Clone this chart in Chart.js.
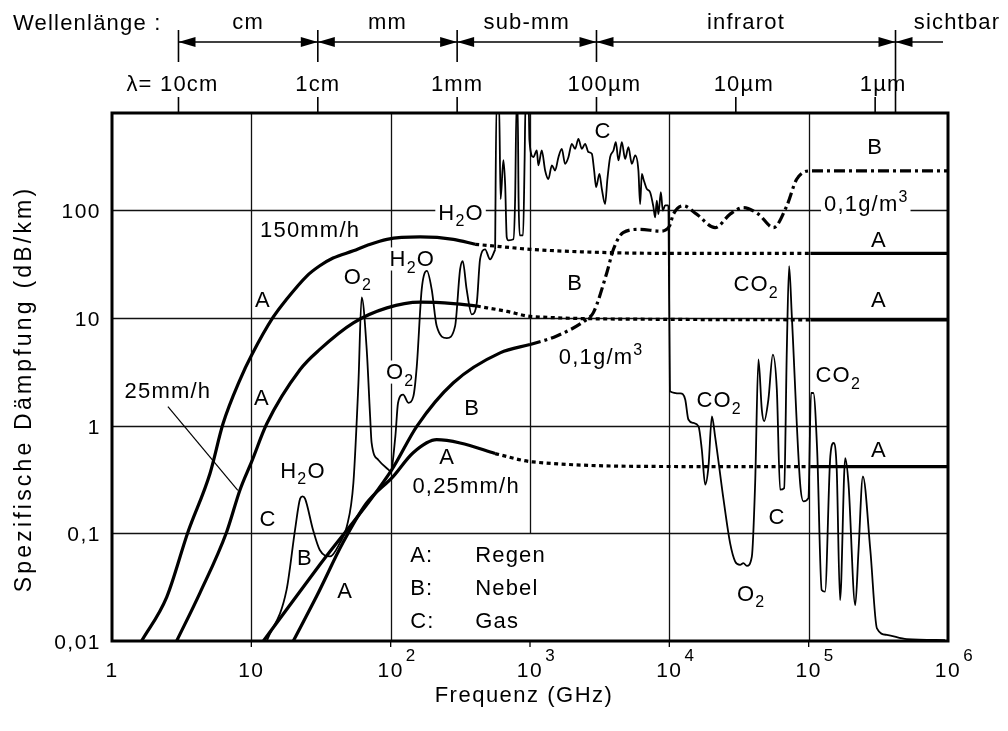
<!DOCTYPE html>
<html>
<head>
<meta charset="utf-8">
<script src="https://cdn.jsdelivr.net/npm/chart.js@4.4.0/dist/chart.umd.min.js"></script>
<style>
  html, body { margin: 0; padding: 0; background: #fff; }
  canvas { display: block; }
</style>
</head>
<body>
<canvas id="chart" width="1008" height="731"></canvas>
<script>
// Spezifische Dämpfung von Regen (A), Nebel (B) und Gas (C) über der Frequenz

// Regen 150 mm/h
const rain150Freq = [1.63, 2.47, 3.51, 5.05, 6.26, 8.3, 10.1, 14.3, 17.9, 25, 31, 38.6, 54, 67.3, 94, 163, 282, 404];
const rain150Val  = [0.01, 0.0256, 0.103, 0.36, 1.04, 2.68, 4.57, 10.1, 14.9, 24.5, 30.5, 36, 42, 47, 53.7, 56.5, 53.7, 48.3];
const rain150TailFreq = [404, 610, 1000, 3185, 10000, 103000];
const rain150TailVal  = [48.3, 46, 43.4, 40.6, 39.8, 39.8];
const rain150EndFreq = [103000, 1000000];
const rain150EndVal  = [39.8, 39.8];

// Regen 25 mm/h
const rain25Freq = [2.91, 4.28, 6.65, 8.3, 10.07, 12.9, 22.4, 31, 54, 94, 163, 282, 415];
const rain25Val  = [0.01, 0.028, 0.103, 0.254, 0.465, 1.04, 3.32, 5.1, 9.0, 12.4, 14.0, 13.6, 12.9];
const rain25TailFreq = [415, 684, 1035, 10000, 103000];
const rain25TailVal  = [12.9, 11.5, 10.3, 9.7, 9.6];
const rain25EndFreq = [103000, 1000000];
const rain25EndVal  = [9.6, 9.6];

// Regen 0,25 mm/h
const rain025Freq = [20, 29.4, 45.5, 67, 104, 145, 214, 315, 562];
const rain025Val  = [0.01, 0.026, 0.082, 0.19, 0.336, 0.56, 0.74, 0.69, 0.55];
const rain025TailFreq = [562, 1050, 12000, 103000];
const rain025TailVal  = [0.55, 0.46, 0.417, 0.416];
const rain025EndFreq = [103000, 1000000];
const rain025EndVal  = [0.416, 0.416];

// Nebel 0,1 g/m3
const fogFreq = [12.2, 31, 102, 154, 282, 610, 1000];
const fogVal  = [0.01, 0.051, 0.39, 0.985, 2.5, 4.74, 5.66];
const fogTailFreq = [1000, 1556, 2550, 2850, 3560, 3970, 4660, 6170, 8590, 10000, 10700, 12600, 15700,
  21300, 27300, 34000, 43600, 55900, 69700, 82000, 103000, 1000000];
const fogTailVal  = [5.66, 6.8, 9.7, 11.2, 26.3, 43.4, 62, 66.5, 64, 71, 92, 110, 92,
  69, 92, 106, 92, 69, 110, 194, 232, 232];

// Gas: Mikrowellen / Millimeter
const gasMwFreq = [12.9, 17.9, 20.6, 22.4, 23.3, 24.3, 27.7, 31, 36.7, 43.3, 48.4, 54, 58.7, 61.9, 67.3,
  71.2, 73, 81.6, 96.4, 100, 108, 113, 123, 134, 145.5, 154, 167, 182, 197, 214, 253, 290, 315, 329,
  351, 382, 415, 438, 476, 517, 562];
const gasMwVal  = [0.01, 0.0298, 0.108, 0.21, 0.22, 0.21, 0.108, 0.07, 0.061, 0.082, 0.115, 0.293, 2.5, 15.5, 5.1,
  1.22, 0.69, 0.48, 0.39, 0.376, 0.79, 1.63, 1.94, 1.63, 1.87, 3.57, 18.4, 27.3, 18.4, 8.4, 6.5, 8.4, 28.2, 33.7,
  18.4, 10.8, 13.8, 35, 43.3, 35, 43];
// Gas: Submillimeter
const gasSubFreq = [562, 575, 600, 615, 644, 663, 681, 700, 760, 782, 801, 815, 828, 843, 892, 915, 929, 977,
  991, 1057, 1119, 1148, 1215, 1284, 1355, 1435, 1514, 1600, 1691, 1786, 1887, 1995, 2108, 2225, 2354,
  2487, 2625, 2778, 2886, 2983, 3150, 3276, 3459, 3594, 3758, 3971, 4130, 4315, 4560, 4819, 5084, 5383,
  5689, 5998, 6170, 6350, 6516, 6890, 7280, 7690, 7910, 8130, 8350, 8690, 8980, 9330, 9860];
const gasSubVal  = [43, 1000, 1000, 127, 292, 175, 56, 52.6, 53.7, 127, 1000, 1000, 127, 58.5, 58.5, 298, 1000, 1000,
  445, 311, 359, 261, 359, 234, 195, 261, 234, 311, 372, 270, 311, 414, 372, 460, 372,
  414, 347, 334, 234, 164, 218, 158, 114, 195, 311, 359, 429, 290, 429, 300, 385, 270,
  323, 234, 114, 218, 195, 158, 147, 107, 86, 123, 92, 147, 99, 111, 111];
// Gas: Infrarot
const gasIrFreq = [9860, 10100, 12000, 13000, 13700, 14900, 16200, 17100, 18100, 19100, 20200, 21300, 24500, 27300,
  29700, 32200, 34000, 36000, 39100, 41300, 43600, 46100, 47900, 51400, 55300, 59100, 62400, 66700, 69700,
  72400, 75700, 86800, 91800, 99600, 104000, 108000, 115000, 124000, 131000, 143000, 151000, 159000,
  168000, 183000, 193000, 216000, 228000, 245000, 277000, 309000, 364000, 507000, 955000];
const gasIrVal  = [111, 2.09, 1.99, 1.75, 1.14, 1.06, 0.985, 0.6, 0.283, 0.418, 1.22, 0.795, 0.205, 0.081,
  0.0547, 0.051, 0.0528, 0.0499, 0.0608, 0.293, 4.11, 1.41, 1.1, 1.75, 4.57, 2.16, 0.254, 0.263, 5.09,
  30.3, 10.4, 0.293, 0.198, 0.212, 2.01, 2.01, 0.6, 0.0298, 0.0288, 0.518, 0.69, 0.39,
  0.024, 0.5, 0.293, 0.0216, 0.07, 0.337, 0.07, 0.0131, 0.0114, 0.0104, 0.0102];

// Achsen
const xTickVals = [1, 10, 100, 1000, 10000, 100000, 1000000];
const xTickBase = ['1', '10', '10', '10', '10', '10', '10'];
const xTickExp  = ['', '', '2', '3', '4', '5', '6'];
const yTickVals = [0.01, 0.1, 1, 10, 100];
const yTickLabels = ['0,01', '0,1', '1', '10', '100'];
const gridX = [10, 100, 1000, 10000, 100000];
const gridY = [0.1, 1, 10, 100];

// Wellenlängen-Skala oben
const waveFreq = [3, 30, 300, 3000, 30000, 300000];
const waveLabels = ['λ= 10cm', '1cm', '1mm', '100µm', '10µm', '1µm'];
const bandEdges = [3, 30, 300, 3000, 420000];
const bandNames = ['cm', 'mm', 'sub-mm', 'infrarot'];

// Beschriftungen im Diagramm [Text, Frequenz, Dämpfung, weißer Hintergrund]
const notes = [
  ['150mm/h', 26.4, 66.5], ['A', 12.1, 14.9], ['O_2', 58.3, 24.3], ['H_2O', 143, 35.7, true],
  ['H_2O', 320, 95.8, true], ['C', 3350, 555], ['B', 300000, 394], ['0,1g/m^3', 259000, 116, true],
  ['A', 320000, 53.7], ['A', 320000, 14.9], ['B', 2110, 21.4], ['0,1g/m^3', 3240, 4.38],
  ['CO_2', 42000, 20.9], ['CO_2', 22800, 1.75], ['CO_2', 163000, 2.98], ['A', 320000, 0.6],
  ['C', 59400, 0.146], ['O_2', 38700, 0.028], ['A', 11.9, 1.86], ['25mm/h', 2.52, 2.16],
  ['C', 13.2, 0.139], ['H_2O', 23.5, 0.39], ['B', 24.3, 0.06], ['A', 47.1, 0.0298],
  ['O_2', 117, 3.18, true], ['B', 384, 1.5], ['A', 254, 0.526], ['0,25mm/h', 348, 0.283]
];
const legendKeys = ['A:', 'B:', 'C:'];
const legendNames = ['Regen', 'Nebel', 'Gas'];
const legendVals = [0.0644, 0.0318, 0.0157];

const FONT = '"Liberation Sans", Arial, Helvetica, sans-serif';
const TXT = 22;

function setFont(ctx, size, spacing) {
  ctx.font = size + 'px ' + FONT;
  if ('letterSpacing' in ctx) ctx.letterSpacing = (spacing === undefined ? 1.2 : spacing) + 'px';
}

// einfacher Text mit _x (tief) und ^x (hoch)
function richText(ctx, str, x, y, size, align, bg) {
  const parts = [];
  for (let i = 0; i < str.length; i++) {
    const c = str[i];
    if ((c === '_' || c === '^') && i + 1 < str.length) { parts.push({ t: str[i + 1], k: c }); i++; continue; }
    const last = parts[parts.length - 1];
    if (last && last.k === '') last.t += c; else parts.push({ t: c, k: '' });
  }
  const small = Math.round(size * 0.72);
  let w = 0;
  for (const p of parts) { setFont(ctx, p.k ? small : size); p.w = ctx.measureText(p.t).width; w += p.w; }
  let x0 = align === 'left' ? x : align === 'right' ? x - w : x - w / 2;
  const base = y + size * 0.36;
  if (bg) { ctx.fillStyle = '#fff'; ctx.fillRect(x0 - 3, y - size * 0.5, w + 5, size * 1.05); }
  ctx.fillStyle = '#000';
  ctx.textAlign = 'left';
  ctx.textBaseline = 'alphabetic';
  for (const p of parts) {
    setFont(ctx, p.k ? small : size);
    const dy = p.k === '_' ? size * 0.28 : p.k === '^' ? -size * 0.42 : 0;
    ctx.fillText(p.t, x0, base + dy);
    x0 += p.w;
  }
}

function seg(ctx, x1, y1, x2, y2) {
  ctx.beginPath(); ctx.moveTo(x1, y1); ctx.lineTo(x2, y2); ctx.stroke();
}

function arrowHead(ctx, tipX, y, dir) {
  // dir -1: zeigt nach links, +1: nach rechts
  ctx.beginPath();
  ctx.moveTo(tipX, y);
  ctx.lineTo(tipX - dir * 17, y - 5);
  ctx.lineTo(tipX - dir * 17, y + 5);
  ctx.closePath();
  ctx.fill();
}

const paperPlugin = {
  id: 'paper',
  beforeDatasetsDraw(chart) {
    const { ctx, chartArea: a } = chart;
    const xs = chart.scales.x, ys = chart.scales.y;
    ctx.save();
    ctx.strokeStyle = '#111';
    ctx.lineWidth = 1.3;
    gridX.forEach(f => {
      const px = Math.round(xs.getPixelForValue(f)) + 0.5;
      const yEnd = f === 1000 ? ys.getPixelForValue(0.1) : a.bottom;
      seg(ctx, px, a.top, px, yEnd);
    });
    gridY.forEach(v => {
      const py = Math.round(ys.getPixelForValue(v)) + 0.5;
      seg(ctx, a.left, py, a.right, py);
    });

    // Beschriftungen
    notes.forEach(n => {
      richText(ctx, n[0], xs.getPixelForValue(n[1]), ys.getPixelForValue(n[2]), TXT, 'center', n[3]);
    });
    legendKeys.forEach((k, i) => {
      const py = ys.getPixelForValue(legendVals[i]);
      richText(ctx, k, xs.getPixelForValue(138), py, TXT, 'left');
      richText(ctx, legendNames[i], xs.getPixelForValue(404), py, TXT, 'left');
    });
    // Zeiger 25mm/h
    ctx.lineWidth = 1.2;
    ctx.strokeStyle = '#000';
    seg(ctx, xs.getPixelForValue(2.52), ys.getPixelForValue(1.5), xs.getPixelForValue(8.0), ys.getPixelForValue(0.25));
    ctx.restore();
  },
  afterDraw(chart) {
    const { ctx, chartArea: a } = chart;
    const xs = chart.scales.x, ys = chart.scales.y;
    ctx.save();
    ctx.strokeStyle = '#000';
    ctx.fillStyle = '#000';

    // Rahmen
    ctx.lineWidth = 3;
    ctx.strokeRect(a.left, a.top, a.right - a.left, a.bottom - a.top);

    // kleine Striche unten
    ctx.lineWidth = 1.3;
    gridX.forEach(f => {
      const px = xs.getPixelForValue(f);
      seg(ctx, px, a.bottom, px, a.bottom + 6);
    });

    // x-Beschriftung
    xTickVals.forEach((v, i) => {
      const px = xs.getPixelForValue(v);
      setFont(ctx, 21, 1.5);
      ctx.textAlign = 'center';
      ctx.textBaseline = 'alphabetic';
      ctx.fillText(xTickBase[i], px, 677);
      if (xTickExp[i]) {
        const w = ctx.measureText(xTickBase[i]).width;
        setFont(ctx, 17, 1);
        ctx.textAlign = 'left';
        ctx.fillText(xTickExp[i], px + w / 2 + 2, 661);
      }
    });
    // y-Beschriftung
    yTickVals.forEach((v, i) => {
      setFont(ctx, 21, 1.5);
      ctx.textAlign = 'right';
      ctx.textBaseline = 'alphabetic';
      ctx.fillText(yTickLabels[i], 101, ys.getPixelForValue(v) + 8);
    });

    // Achsentitel
    setFont(ctx, 22, 1.5);
    ctx.textAlign = 'center';
    ctx.fillText('Frequenz (GHz)', 524, 702);
    ctx.save();
    ctx.translate(31, 389);
    ctx.rotate(-Math.PI / 2);
    setFont(ctx, 23, 3.2);
    ctx.fillText('Spezifische Dämpfung (dB/km)', 0, 0);
    ctx.restore();

    // Wellenlängen-Skala
    const yArrow = 42;
    const edges = bandEdges.map(f => xs.getPixelForValue(f));
    ctx.lineWidth = 1.6;
    seg(ctx, edges[0], yArrow, 943, yArrow);
    edges.forEach((px, i) => seg(ctx, px, 30, px, i === edges.length - 1 ? a.top : 62));
    for (let i = 0; i < bandNames.length; i++) {
      arrowHead(ctx, edges[i], yArrow, -1);
      arrowHead(ctx, edges[i + 1], yArrow, 1);
      richText(ctx, bandNames[i], (edges[i] + edges[i + 1]) / 2, 21, TXT, 'center');
    }
    arrowHead(ctx, edges[edges.length - 1], yArrow, -1);
    richText(ctx, 'sichtbar', 957, 21, TXT, 'center');
    richText(ctx, 'Wellenlänge :', 13, 22, TXT, 'left');

    waveFreq.forEach((f, i) => {
      const px = xs.getPixelForValue(f);
      seg(ctx, px, 97, px, a.top);
      const lbl = waveLabels[i];
      const dx = lbl.indexOf('µ') >= 0 ? 8 : lbl.indexOf('λ') === 0 ? -6 : 0;
      richText(ctx, lbl, px + dx, 83, TXT, 'center');
    });
    ctx.restore();
  }
};

const pts = (xs, ys) => xs.map((x, i) => ({ x, y: ys[i] }));
const thick = { borderColor: '#000', borderWidth: 3.2, pointRadius: 0, fill: false, cubicInterpolationMode: 'monotone' };
const dotted = Object.assign({}, thick, { borderDash: [4, 3.5] });
const dashDot = Object.assign({}, thick, { borderDash: [11, 4, 3, 4] });
const thin = { borderColor: '#000', borderWidth: 1.8, pointRadius: 0, fill: false, cubicInterpolationMode: 'monotone' };

new Chart(document.getElementById('chart'), {
  type: 'line',
  data: {
    datasets: [
      Object.assign({ label: 'A 150mm/h', data: pts(rain150Freq, rain150Val) }, thick),
      Object.assign({ label: 'A 150mm/h', data: pts(rain150TailFreq, rain150TailVal) }, dotted),
      Object.assign({ label: 'A 150mm/h', data: pts(rain150EndFreq, rain150EndVal) }, thick),
      Object.assign({ label: 'A 25mm/h', data: pts(rain25Freq, rain25Val) }, thick),
      Object.assign({ label: 'A 25mm/h', data: pts(rain25TailFreq, rain25TailVal) }, dotted),
      Object.assign({ label: 'A 25mm/h', data: pts(rain25EndFreq, rain25EndVal) }, thick),
      Object.assign({ label: 'A 0,25mm/h', data: pts(rain025Freq, rain025Val) }, thick),
      Object.assign({ label: 'A 0,25mm/h', data: pts(rain025TailFreq, rain025TailVal) }, dotted),
      Object.assign({ label: 'A 0,25mm/h', data: pts(rain025EndFreq, rain025EndVal) }, thick),
      Object.assign({ label: 'B 0,1g/m3', data: pts(fogFreq, fogVal) }, thick),
      Object.assign({ label: 'B 0,1g/m3', data: pts(fogTailFreq, fogTailVal) }, dashDot),
      Object.assign({ label: 'C Gas', data: pts(gasMwFreq, gasMwVal) }, thin),
      Object.assign({ label: 'C Gas', data: pts(gasSubFreq, gasSubVal) }, thin),
      Object.assign({ label: 'C Gas', data: pts(gasIrFreq, gasIrVal) }, thin)
    ]
  },
  options: {
    responsive: false,
    animation: false,
    devicePixelRatio: 1,
    layout: { padding: { left: 112, right: 60, top: 113, bottom: 90 } },
    plugins: { legend: { display: false }, tooltip: { enabled: false } },
    scales: {
      x: { type: 'logarithmic', min: 1, max: 1000000, display: false },
      y: { type: 'logarithmic', min: 0.01, max: 800, display: false }
    }
  },
  plugins: [paperPlugin]
});
</script>
</body>
</html>
